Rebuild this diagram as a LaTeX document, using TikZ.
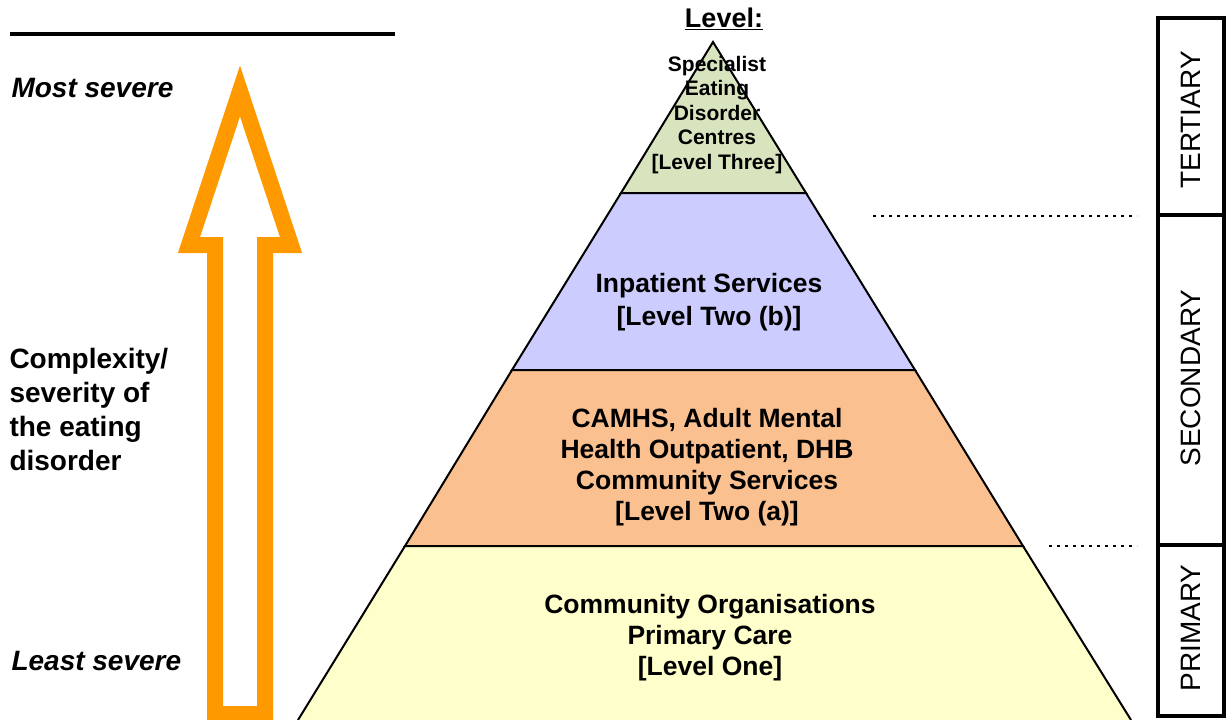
\documentclass[tikz,border=0pt]{standalone}
\usepackage{fontspec}
\setmainfont{Liberation Sans}
\usepackage{tikz}

\definecolor{levthree}{HTML}{D7E4BD}
\definecolor{levtwob}{HTML}{CCCCFF}
\definecolor{levtwoa}{HTML}{FAC090}
\definecolor{levone}{HTML}{FFFFCC}
\definecolor{arroworange}{HTML}{FF9900}

\begin{document}
\begin{tikzpicture}[x=1pt, y=-1pt,
        layer/.style={draw=black, line width=2},
        lvltext/.style={font=\fontsize{26.5}{31}\selectfont\bfseries, align=center},
        sidetext/.style={font=\fontsize{28}{34}\selectfont\bfseries, align=left, anchor=west},
        tier/.style={font=\fontsize{28}{34}\selectfont, rotate=90},
        gap/.style={line width=2.5, dash pattern=on 2.5 off 5.5}]
        \useasboundingbox (0,0) rectangle (1226,720);

        % pyramid, top to bottom
        \draw[layer, fill=levthree] (713,42) -- (806,193) -- (621,193) -- cycle;
        \draw[layer, fill=levtwob] (621,193) -- (806,193) -- (915,370) -- (512,370) -- cycle;
        \draw[layer, fill=levtwoa] (512,370) -- (915,370) -- (1023,546) -- (405,546) -- cycle;
        \fill[levone] (405,546) -- (1023,546) -- (1131,720) -- (298,720) -- cycle;
        \draw[layer] (298,720) -- (405,546) -- (1023,546) -- (1131,720);

        \node[font=\fontsize{27}{31}\selectfont\bfseries] (lvl) at (724,19) {\underline{Level:}};
        \node[font=\fontsize{21}{24.5}\selectfont\bfseries, align=center] (specialist) at (717,115)
                {Specialist\\Eating\\Disorder\\Centres\\{[Level Three]}};
        \node[lvltext, font=\fontsize{26.5}{33}\selectfont\bfseries] (inpatient) at (709,302)
                {Inpatient Services\\{[Level Two (b)]}};
        \node[lvltext] (camhs) at (707,467)
                {CAMHS, Adult Mental\\Health Outpatient, DHB\\Community Services\\{[Level Two (a)]}};
        \node[lvltext] (community) at (710,638)
                {Community Organisations\\Primary Care\\{[Level One]}};

        % severity arrow
        \draw[arroworange, line width=16, miter limit=10]
                (215,714) -- (215,245) -- (189,245) -- (240,91) -- (291,245) -- (265,245) -- (265,714) -- cycle;
        \draw[line width=4] (10,34) -- (395,34);
        \node[sidetext, font=\fontsize{28}{34}\selectfont\bfseries\itshape] (mostsev) at (8,88) {Most severe};
        \node[sidetext] (complexity) at (6,409) {Complexity/\\severity of\\the eating\\disorder};
        \node[sidetext, font=\fontsize{28}{34}\selectfont\bfseries\itshape] (leastsev) at (8,661) {Least severe};

        % service tiers
        \draw[line width=3.5] (1158,18) rectangle (1224,716);
        \draw[line width=3.5] (1158,215) -- (1224,215);
        \draw[line width=3.5] (1158,545) -- (1224,545);
        \node[tier] (tertiary) at (1191,120) {TERTIARY};
        \node[tier] (secondary) at (1191,378) {SECONDARY};
        \node[tier] (primary) at (1191,628) {PRIMARY};
        \draw[gap] (873,216) -- (1137,216);
        \draw[gap] (1049,546) -- (1137,546);
\end{tikzpicture}
\end{document}
